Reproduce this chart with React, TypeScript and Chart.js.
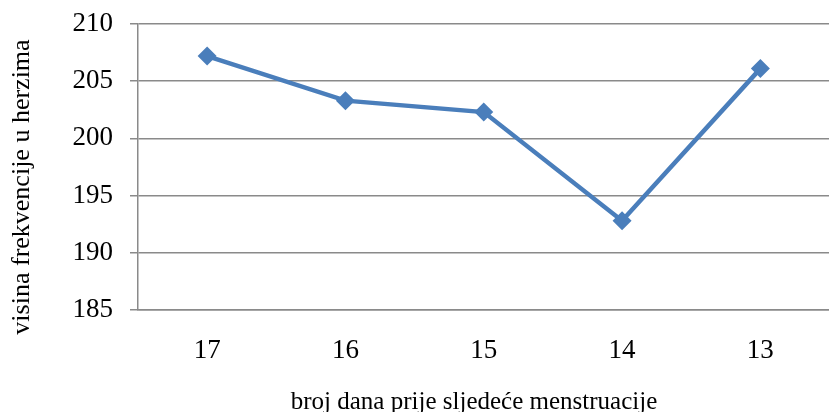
import React, { useEffect, useRef } from "react";
import { Chart, registerables } from "chart.js";

Chart.register(...registerables);

const categories = ["17", "16", "15", "14", "13"];
const values = [207.2, 203.3, 202.3, 192.8, 206.1];
const yMin = 185;
const yMax = 210;
const yStep = 5;
const xTitle = "broj dana prije sljedeće menstruacije";
const yTitle = "visina frekvencije u herzima";

const FONT = "'Liberation Serif', 'Times New Roman', serif";
const GRID = "#8a8a8a";
const LINE = "#4a7ebb";

const titlesPlugin = {
  id: "titles",
  afterDraw(chart: any) {
    const ctx = chart.ctx;
    ctx.save();
    ctx.fillStyle = "#000";
    ctx.textAlign = "center";
    ctx.textBaseline = "middle";
    ctx.font = `25px ${FONT}`;
    ctx.fillText(xTitle, 474, 402);
    ctx.translate(22, 187);
    ctx.rotate(-Math.PI / 2);
    ctx.font = `26px ${FONT}`;
    ctx.fillText(yTitle, 0, 0);
    ctx.restore();
  },
};

export default function App() {
  const ref = useRef<HTMLCanvasElement | null>(null);
  useEffect(() => {
    if (!ref.current) return;
    const chart = new Chart(ref.current, {
      type: "line",
      data: {
        labels: categories,
        datasets: [
          {
            data: values,
            borderColor: LINE,
            backgroundColor: LINE,
            borderWidth: 4.5,
            pointStyle: "rectRot",
            pointRadius: 9.5,
            pointBorderWidth: 0,
            pointBackgroundColor: LINE,
            tension: 0,
          },
        ],
      },
      options: {
        animation: false,
        responsive: false,
        maintainAspectRatio: false,
        layout: { padding: { top: 24, left: 0, right: 0, bottom: 0 } },
        plugins: { legend: { display: false }, tooltip: { enabled: false } },
        scales: {
          x: {
            offset: true,
            grid: { display: false, drawTicks: false },
            border: { display: true, color: GRID, width: 1.5 },
            ticks: { font: { family: FONT, size: 27 }, color: "#000", padding: 25 },
            afterFit: (s: any) => {
              s.height = 412 - 310;
              s.paddingLeft = 0;
              s.paddingRight = 0;
            },
          },
          y: {
            min: yMin,
            max: yMax,
            ticks: {
              stepSize: yStep,
              font: { family: FONT, size: 27 },
              color: "#000",
              padding: 17,
            },
            grid: { color: GRID, lineWidth: 1.5, tickLength: 8 },
            border: { display: true, color: GRID, width: 1.5 },
            afterFit: (s: any) => {
              s.width = 138;
              s.paddingTop = 0;
              s.paddingBottom = 0;
            },
          },
        },
      },
      plugins: [titlesPlugin],
    });
    return () => chart.destroy();
  }, []);
  return (
    <div style={{ position: "fixed", left: 0, top: 0, width: 829, height: 412, overflow: "hidden", background: "#fff" }}>
      <canvas ref={ref} width={839} height={412} style={{ display: "block", width: 839, height: 412 }} />
    </div>
  );
}
